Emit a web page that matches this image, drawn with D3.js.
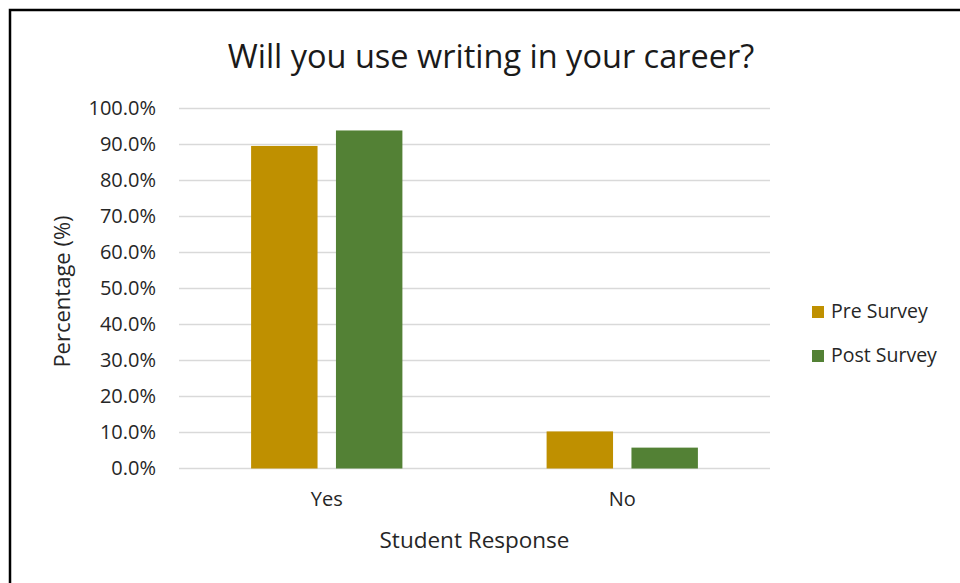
<!DOCTYPE html>
<html>
<head>
<meta charset="utf-8">
<script src="https://cdn.jsdelivr.net/npm/d3@7"></script>
<style>
  body { margin: 0; background: #fff; }
  svg { display: block; font-family: "Open Sans", "Noto Sans", sans-serif; }
</style>
</head>
<body>
<div id="chart"></div>
<script>
  var categories = ["Yes", "No"];
  var seriesNames = ["Pre Survey", "Post Survey"];
  var preSurvey = [89.6, 10.3];
  var postSurvey = [93.9, 5.8];
  var yTicks = [0, 10, 20, 30, 40, 50, 60, 70, 80, 90, 100];

  var width = 960,
      height = 583,
      colors = ["#BF9000", "#538135"];

  var margin = {left: 179, right: 190, top: 108.5, bottom: 114.5};

  var svg = d3.select("#chart")
      .append("svg")
      .attr("width", width)
      .attr("height", height);

  // chart border, runs past the right and bottom edge
  svg.append("rect")
      .attr("x", 10)
      .attr("y", 10)
      .attr("width", width)
      .attr("height", height)
      .attr("fill", "#fff")
      .attr("stroke", "#000")
      .attr("stroke-width", 2.5);

  var x0 = d3.scaleBand()
      .domain(categories)
      .range([margin.left, width - margin.right]);

  var x1 = d3.scaleBand()
      .domain(seriesNames)
      .range([x0.bandwidth() * 0.244, x0.bandwidth() * 0.756])
      .paddingInner(0.217);

  var y = d3.scaleLinear()
      .domain([0, 100])
      .range([height - margin.bottom, margin.top]);

  // gridlines
  svg.append("g")
      .attr("class", "grid")
      .selectAll("line")
      .data(yTicks)
      .enter()
      .append("line")
      .attr("x1", margin.left)
      .attr("x2", width - margin.right)
      .attr("y1", function(d){ return y(d); })
      .attr("y2", function(d){ return y(d); })
      .attr("stroke", "#d9d9d9")
      .attr("stroke-width", 1.5);

  // y axis labels
  var yAxis = d3.axisLeft(y)
      .tickValues(yTicks)
      .tickSize(0)
      .tickPadding(23)
      .tickFormat(function(d){ return d.toFixed(1) + "%"; });

  svg.append("g")
      .attr("transform", "translate(" + margin.left + ",0)")
      .call(yAxis)
      .call(function(g){ g.select(".domain").remove(); })
      .selectAll("text")
      .attr("fill", "#262626")
      .style("font-size", "20px")
      .style("font-family", "\"Open Sans\", sans-serif");

  // x axis labels
  var xAxis = d3.axisBottom(x0)
      .tickSize(0)
      .tickPadding(23);

  svg.append("g")
      .attr("transform", "translate(0," + y(0) + ")")
      .call(xAxis)
      .call(function(g){ g.select(".domain").remove(); })
      .selectAll("text")
      .attr("fill", "#262626")
      .style("font-size", "20px")
      .style("font-family", "\"Open Sans\", sans-serif");

  var rows = categories.map(function(c, i){
    return {category: c, values: [preSurvey[i], postSurvey[i]]};
  });

  var groups = svg.append("g")
      .selectAll("g")
      .data(rows)
      .enter()
      .append("g")
      .attr("transform", function(d){ return "translate(" + x0(d.category) + ",0)"; });

  groups.selectAll("rect")
      .data(function(d){
        return d.values.map(function(v, j){ return {series: seriesNames[j], value: v, idx: j}; });
      })
      .enter()
      .append("rect")
      .attr("x", function(d){ return x1(d.series); })
      .attr("width", x1.bandwidth())
      .attr("y", function(d){ return y(d.value); })
      .attr("height", function(d){ return y(0) - y(d.value); })
      .attr("fill", function(d){ return colors[d.idx]; });

  // title
  svg.append("text")
      .attr("x", 491)
      .attr("y", 68)
      .attr("text-anchor", "middle")
      .attr("fill", "#1a1a1a")
      .style("font-size", "32.5px")
      .text("Will you use writing in your career?");

  // axis titles
  svg.append("text")
      .attr("x", x0.range()[0] + (x0.range()[1] - x0.range()[0]) / 2)
      .attr("y", 548)
      .attr("text-anchor", "middle")
      .attr("fill", "#262626")
      .style("font-size", "22.5px")
      .text("Student Response");

  svg.append("text")
      .attr("transform", "translate(70," + (y(50) + 3) + ") rotate(-90)")
      .attr("text-anchor", "middle")
      .attr("fill", "#262626")
      .style("font-size", "22px")
      .text("Percentage (%)");

  // legend
  var legend = svg.append("g")
      .selectAll("g")
      .data(seriesNames)
      .enter()
      .append("g")
      .attr("transform", function(d, i){ return "translate(812," + (306 + i * 44) + ")"; });

  legend.append("rect")
      .attr("width", 12)
      .attr("height", 12)
      .attr("fill", function(d, i){ return colors[i]; });

  legend.append("text")
      .attr("x", 19)
      .attr("y", 12)
      .attr("fill", "#262626")
      .style("font-size", "19.5px")
      .text(function(d){ return d; });
</script>
</body>
</html>
